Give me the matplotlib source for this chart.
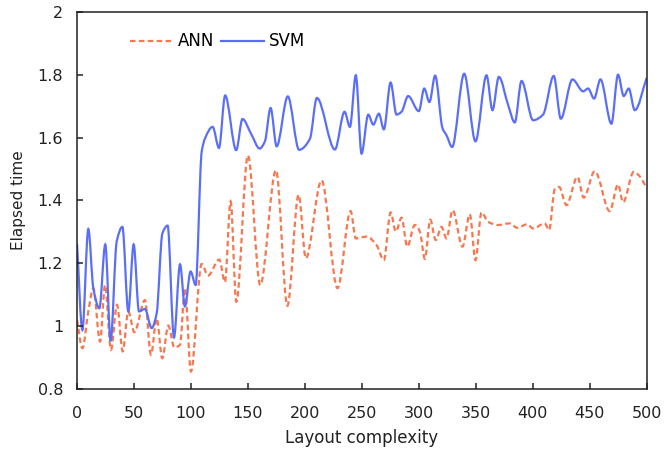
import numpy as np
from matplotlib import pyplot as plt
from matplotlib.path import Path
from matplotlib.patches import PathPatch
from matplotlib.lines import Line2D
from matplotlib.ticker import FuncFormatter

# SVM series (x, elapsed time)
svm_x = [0, 4.7, 9.9, 14.3, 19.6, 24.8, 29.5, 34.8, 39.8, 45, 49.7, 54.4, 59.6, 65.5,
         69.9, 74.9, 79.5, 85.1, 90.4, 94.7, 99.7, 104.1, 109.4, 112.3, 119, 124.6,
         130, 139.7, 145.2, 153, 160.3, 164.9, 169.9, 175.2, 185, 194.9, 204.4, 210.5,
         226.3, 234.8, 239.5, 244.7, 249.7, 255.6, 260, 264.9, 269.3, 275.2, 280.4,
         284.8, 290.6, 300, 304.7, 309.3, 314.3, 320.8, 324.3, 329.2, 339.8, 349.7,
         359.4, 364.6, 370.2, 378.4, 384.2, 390.1, 400.3, 409, 418.4, 424.6, 434.8,
         444.2, 448.5, 453.8, 459.4, 469, 474.8, 479.8, 484.2, 489.5, 500]
svm_y = [1.263, 0.988, 1.309, 1.121, 1.057, 1.260, 0.953, 1.269, 1.316, 1.047, 1.260,
         1.047, 1.055, 0.994, 1.041, 1.295, 1.320, 0.964, 1.197, 1.063, 1.174, 1.131,
         1.555, 1.597, 1.634, 1.567, 1.734, 1.560, 1.659, 1.610, 1.565, 1.588, 1.694,
         1.572, 1.731, 1.561, 1.596, 1.726, 1.562, 1.682, 1.634, 1.798, 1.549, 1.673,
         1.641, 1.676, 1.626, 1.775, 1.673, 1.682, 1.732, 1.684, 1.756, 1.713, 1.797,
         1.629, 1.607, 1.570, 1.803, 1.588, 1.798, 1.687, 1.793, 1.703, 1.648, 1.780,
         1.655, 1.673, 1.796, 1.660, 1.785, 1.747, 1.756, 1.724, 1.785, 1.644, 1.800,
         1.732, 1.756, 1.687, 1.790]

# ANN series
ann_x = [0, 4.7, 9.9, 14.3, 20.2, 24.6, 29.8, 35.1, 40.1, 45, 50.3, 59.6, 64.9, 69.9,
         74.8, 80.1, 85.4, 90.4, 94.7, 100, 109.4, 115, 124.8, 129.8, 134.8, 139.8,
         150, 160.8, 174.6, 184.6, 194.5, 200.8, 214.6, 228.6, 240.1, 244.7, 254.1,
         262.9, 269.3, 275.2, 279.8, 284.8, 289.8, 296.5, 300.9, 305.3, 310, 314.8,
         319.9, 324.3, 329.6, 338.3, 344.7, 349.7, 355, 360.8, 369.6, 379.8, 386.3,
         395, 400.3, 410.5, 414.3, 419.3, 423.1, 429.5, 439.2, 444.7, 454.4, 467.5,
         474.8, 479.2, 488.6, 493, 500]
ann_y = [1.020, 0.930, 1.047, 1.121, 0.951, 1.131, 0.925, 1.068, 0.920, 1.047, 0.981,
         1.083, 0.909, 1.025, 0.898, 1.002, 0.932, 0.941, 1.121, 0.856, 1.198, 1.161,
         1.212, 1.140, 1.397, 1.078, 1.543, 1.131, 1.496, 1.065, 1.418, 1.216, 1.464,
         1.121, 1.366, 1.279, 1.285, 1.258, 1.210, 1.362, 1.301, 1.345, 1.253, 1.322,
         1.301, 1.214, 1.339, 1.274, 1.316, 1.279, 1.369, 1.253, 1.356, 1.210, 1.362,
         1.332, 1.322, 1.327, 1.313, 1.324, 1.311, 1.327, 1.306, 1.436, 1.443, 1.385,
         1.475, 1.409, 1.493, 1.366, 1.451, 1.394, 1.491, 1.480, 1.440]

ann_color = '#f7774f'
svm_color = '#5b6ff6'


#smooth line through the points as bezier curves (monotone cubic slopes)
def smooth_path(x, y):
    x = np.asarray(x, float)
    y = np.asarray(y, float)
    h = np.diff(x)
    d = np.diff(y) / h
    m = np.zeros_like(y)
    for k in range(1, len(x) - 1):
        if d[k - 1] * d[k] > 0:
            w1 = 2 * h[k] + h[k - 1]
            w2 = h[k] + 2 * h[k - 1]
            m[k] = (w1 + w2) / (w1 / d[k - 1] + w2 / d[k])
    m[0] = d[0]
    m[-1] = d[-1]
    verts = [(x[0], y[0])]
    codes = [Path.MOVETO]
    for i in range(len(x) - 1):
        verts.append((x[i] + h[i] / 3, y[i] + m[i] * h[i] / 3))
        verts.append((x[i + 1] - h[i] / 3, y[i + 1] - m[i + 1] * h[i] / 3))
        verts.append((x[i + 1], y[i + 1]))
        codes += [Path.CURVE4] * 3
    return Path(verts, codes)


plt.rcParams['font.family'] = 'DejaVu Sans'
fig = plt.figure(figsize=(6.64, 4.54), dpi=100)
ax = fig.add_axes([0.116, 0.143, 0.858, 0.831])

ax.add_patch(PathPatch(smooth_path(ann_x, ann_y), fill=False, edgecolor=ann_color,
                       lw=1.6, linestyle=(0, (2.5, 1.5))))
ax.add_patch(PathPatch(smooth_path(svm_x, svm_y), fill=False, edgecolor=svm_color,
                       lw=1.6))

ax.set_xlim(0, 500)
ax.set_ylim(0.8, 2)
ax.set_xticks(np.arange(0, 501, 50))
ax.set_yticks(np.arange(0.8, 2.01, 0.2))
ax.yaxis.set_major_formatter(FuncFormatter(lambda v, p: '%g' % round(v, 1)))
ax.tick_params(direction='in', length=4, width=1.1, labelsize=11.5, colors='#222222')
ax.tick_params(axis='x', pad=12)
ax.tick_params(axis='y', pad=10)
for s in ax.spines.values():
    s.set_linewidth(1.1)
    s.set_color('#222222')

ax.set_xlabel('Layout complexity', fontsize=12, color='#222222', labelpad=6)
ax.set_ylabel('Elapsed time', fontsize=11, color='#222222', labelpad=8)

handles = [Line2D([], [], color=ann_color, lw=1.6, linestyle=(0, (2.5, 1.5))),
           Line2D([], [], color=svm_color, lw=1.6)]
ax.legend(handles, ['ANN', 'SVM'], ncol=2, frameon=False, loc='upper left',
          bbox_to_anchor=(0.066, 0.985), fontsize=12, handlelength=2.6,
          handletextpad=0.3, columnspacing=0.4)

fig.savefig('out.png', dpi=100)
